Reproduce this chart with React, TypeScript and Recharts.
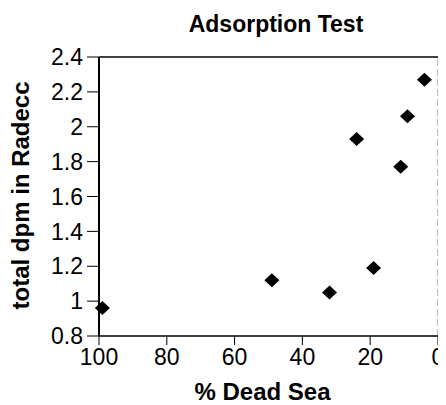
import React from 'react';
import { ScatterChart, Scatter, XAxis, YAxis, ReferenceLine } from 'recharts';

// Radecc adsorption test: total counts vs. share of Dead Sea water
const deadSeaPct = [99, 49, 32, 24, 19, 11, 9, 4];
const totalDpm = [0.96, 1.12, 1.05, 1.93, 1.19, 1.77, 2.06, 2.27];
const xTicks = [0, 20, 40, 60, 80, 100];
const yTicks = [0.8, 1, 1.2, 1.4, 1.6, 1.8, 2, 2.2, 2.4];

const points = deadSeaPct.map((pct, i) => ({ pct, dpm: totalDpm[i] }));

const FONT = '"Liberation Sans", Arial, Helvetica, sans-serif';

const Diamond = (props: any) => {
  const { cx, cy } = props;
  if (cx == null || cy == null) return null;
  const w = 7.5;
  const h = 7;
  return (
    <polygon
      points={`${cx},${cy - h} ${cx + w},${cy} ${cx},${cy + h} ${cx - w},${cy}`}
      fill="#000"
    />
  );
};

const tickStyle = { fontSize: 23, fill: '#000', fontFamily: FONT };

export default function App() {
  return (
    <ScatterChart
      width={438}
      height={397}
      margin={{ top: 49, right: 8, bottom: 0, left: 0 }}
      style={{ fontFamily: FONT }}
    >
      <text
        x={268}
        y={24}
        textAnchor="middle"
        fontSize={23}
        fontWeight="bold"
        fontFamily={FONT}
        fill="#000"
      >
        Adsorption Test
      </text>
      <XAxis
        type="number"
        dataKey="pct"
        domain={[0, 100]}
        ticks={xTicks}
        reversed
        height={69}
        tickSize={9}
        tickMargin={4}
        tick={tickStyle}
        axisLine={{ stroke: '#000', strokeWidth: 1.5 }}
        tickLine={{ stroke: '#000', strokeWidth: 1 }}
        label={{
          content: (p: any) => {
            const vb = p.viewBox;
            return (
              <text
                x={vb.x + vb.width / 2 - 6}
                y={vb.y + 64}
                textAnchor="middle"
                fontSize={24}
                fontWeight="bold"
                fontFamily={FONT}
                fill="#000"
              >
                % Dead Sea
              </text>
            );
          },
        }}
      />
      <YAxis
        type="number"
        dataKey="dpm"
        domain={[0.8, 2.4]}
        ticks={yTicks}
        width={91}
        tickSize={12}
        tickMargin={4}
        tick={tickStyle}
        axisLine={{ stroke: '#000', strokeWidth: 2 }}
        tickLine={{ stroke: '#000', strokeWidth: 1 }}
        label={{
          content: (p: any) => {
            const vb = p.viewBox;
            const x = vb.x + 21;
            const y = vb.y + vb.height / 2 - 1;
            return (
              <text
                x={x}
                y={y}
                transform={`rotate(-90, ${x}, ${y})`}
                textAnchor="middle"
                fontSize={24}
                fontWeight="bold"
                fontFamily={FONT}
                fill="#000"
              >
                total dpm in Radecc
              </text>
            );
          },
        }}
      />
      <ReferenceLine y={2.4} stroke="#000" strokeWidth={1.5} ifOverflow="extendDomain" />
      <ReferenceLine x={0} stroke="#777" strokeWidth={1} strokeDasharray="7 3" ifOverflow="extendDomain" />
      <Scatter data={points} shape={<Diamond />} isAnimationActive={false} />
    </ScatterChart>
  );
}
